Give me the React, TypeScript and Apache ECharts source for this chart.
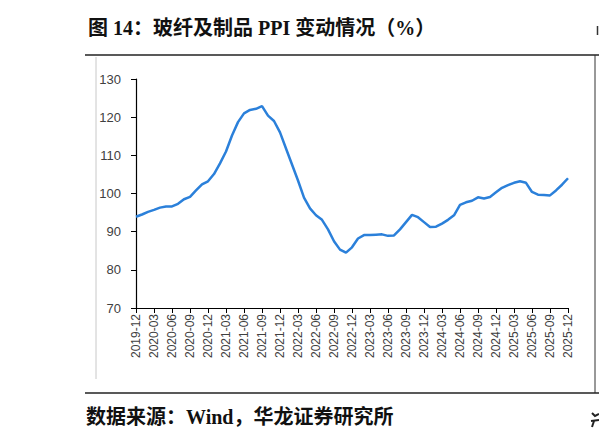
import React, { useEffect, useRef } from "react";
import * as echarts from "echarts";

const titleText = "图 14：玻纤及制品 PPI 变动情况（%）";
const sourceText = "数据来源：Wind，华龙证券研究所";

const startYear = 2019;
const endYear = 2025;
const categories: string[] = [];
for (let y = startYear; y <= endYear; y++) {
  for (let m = 1; m <= 12; m++) {
    if (y === startYear && m < 12) continue;
    categories.push(`${y}-${String(m).padStart(2, "0")}`);
  }
}

const ppiValues = [
  93.9, 94.5, 95.2, 95.7, 96.3, 96.6, 96.6, 97.3, 98.5, 99.1,
  100.8, 102.4, 103.2, 105.1, 107.9, 111.0, 115.2, 118.7, 121.0, 121.9,
  122.2, 122.9, 120.4, 119.0, 116.0, 111.8, 107.6, 103.4, 98.9, 96.1,
  94.3, 93.1, 90.6, 87.5, 85.3, 84.5, 85.9, 88.2, 89.1, 89.1,
  89.2, 89.3, 88.9, 89.0, 90.6, 92.5, 94.4, 93.8, 92.5, 91.2,
  91.3, 92.1, 93.1, 94.3, 97.0, 97.7, 98.1, 99.0, 98.7, 99.1,
  100.3, 101.5, 102.2, 102.8, 103.2, 102.8, 100.4, 99.7, 99.6, 99.5,
  100.8, 102.3, 104.0,
];

const yMin = 70;
const yMax = 130;
const yStep = 10;

export default function App() {
  const ref = useRef<HTMLDivElement>(null);
  useEffect(() => {
    if (!ref.current) return;
    const chart = echarts.init(ref.current, undefined, { renderer: "svg" });
    const serifBold = "'Liberation Serif', 'Noto Sans CJK SC', serif";
    chart.setOption({
      animation: false,
      backgroundColor: "#ffffff",
      grid: { left: 136, right: 31, top: 79, bottom: 133, containLabel: false },
      xAxis: {
        type: "category",
        data: categories,
        boundaryGap: false,
        axisLine: { show: true, lineStyle: { color: "#000000", width: 1.2 } },
        axisTick: { show: true, interval: 2, length: 5, lineStyle: { color: "#000000" } },
        axisLabel: {
          interval: 2,
          rotate: 90,
          margin: 6,
          color: "#404040",
          fontSize: 12,
          fontFamily: "'Liberation Sans', Arial, sans-serif",
        },
        splitLine: { show: false },
      },
      yAxis: {
        type: "value",
        min: yMin,
        max: yMax,
        interval: yStep,
        axisLine: { show: true, lineStyle: { color: "#000000", width: 1.2 } },
        axisTick: { show: true, length: 5, lineStyle: { color: "#000000" } },
        axisLabel: {
          margin: 15,
          color: "#404040",
          fontSize: 13,
          fontFamily: "'Liberation Sans', Arial, sans-serif",
        },
        splitLine: { show: false },
      },
      series: [
        {
          type: "line",
          data: ppiValues,
          showSymbol: false,
          symbol: "none",
          lineStyle: { color: "#2b80da", width: 2.5 },
          itemStyle: { color: "#2b80da" },
        },
      ],
      graphic: [
        {
          type: "text",
          left: 88,
          top: 18,
          style: {
            text: titleText,
            font: `bold 20px ${serifBold}`,
            fill: "#111111",
          },
        },
        {
          type: "line",
          shape: { x1: 597.5, y1: 26, x2: 597.5, y2: 35 },
          style: { stroke: "#333333", lineWidth: 1.5 },
        },
        {
          type: "line",
          shape: { x1: 85, y1: 55, x2: 599, y2: 55 },
          style: { stroke: "#222222", lineWidth: 1.5 },
        },
        {
          type: "line",
          shape: { x1: 595, y1: 55, x2: 595, y2: 393 },
          style: { stroke: "#333333", lineWidth: 1 },
        },
        {
          type: "line",
          shape: { x1: 96, y1: 57, x2: 96, y2: 379 },
          style: { stroke: "#c8c8c8", lineWidth: 1 },
        },
        {
          type: "line",
          shape: { x1: 85, y1: 393, x2: 599, y2: 393 },
          style: { stroke: "#222222", lineWidth: 1.5 },
        },
        {
          type: "text",
          left: 86,
          top: 407,
          style: {
            text: sourceText,
            font: `bold 20px ${serifBold}`,
            fill: "#111111",
          },
        },
        {
          type: "polyline",
          shape: { points: [[592, 413], [595, 416], [599, 414]] },
          style: { stroke: "#222222", lineWidth: 2, fill: "none" },
        },
        {
          type: "polyline",
          shape: { points: [[591, 421], [599, 420]] },
          style: { stroke: "#222222", lineWidth: 2, fill: "none" },
        },
        {
          type: "polyline",
          shape: { points: [[594, 421], [592, 427]] },
          style: { stroke: "#222222", lineWidth: 2, fill: "none" },
        },
      ],
    });
    return () => chart.dispose();
  }, []);
  return (
    <div
      ref={ref}
      style={{ position: "absolute", left: 0, top: 0, width: 599, height: 441 }}
    />
  );
}
